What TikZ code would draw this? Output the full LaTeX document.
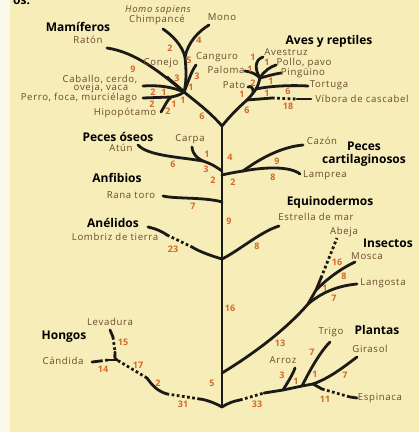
\documentclass[tikz,border=0pt]{standalone}
\usepackage{fontspec}
\setmainfont{Open Sans}
\newfontfamily\taxfont{Open Sans}[LetterSpace=7]
\usepackage{xcolor}
\usepackage{tikz}

\definecolor{paper}{HTML}{F6EDB9}
\definecolor{pageedge}{HTML}{FBF9EC}
\definecolor{ink}{HTML}{1C1A16}
\definecolor{bark}{HTML}{6B4A2B}
\definecolor{rust}{HTML}{D4692A}

\begin{document}
\begin{tikzpicture}[
  x=1pt, y=-1pt,
  branch/.style={draw=ink, line width=2.8pt, line cap=round},
  gapline/.style={draw=ink, line width=2.8pt, dash pattern=on 2.7pt off 2.5pt},
  taxon/.style={text=bark, inner sep=0pt, font=\taxfont\fontsize{9.6}{10}\selectfont},
  group/.style={text=black, inner sep=0pt, align=center, font=\bfseries\fontsize{12}{13}\selectfont},
  blen/.style={text=rust, inner sep=0pt, font=\bfseries\fontsize{9}{9}\selectfont},
]
  \useasboundingbox (0,0) rectangle (419,432);
  \fill[paper] (0,0) rectangle (419,432);
  \fill[pageedge] (0,0) rectangle (10,432);
  \node[group, anchor=base west] (cut) at (13,4) {os.};

  % branch points on the trunk
  \coordinate (top) at (222,126);
  \coordinate (root) at (222,407);
  \coordinate (fishL) at (222,171);
  \coordinate (fishR) at (222,175);
  \coordinate (frog) at (222,202);
  \coordinate (worm) at (222,259);
  \coordinate (bug) at (222,373);
  \draw[branch] (top) -- (root);

  % Mammals
  \coordinate (mam) at (184,92);
  \coordinate (prim) at (185,57);
  \coordinate (chimpE) at (163,29);
  \coordinate (monoE) at (209,25);
  \coordinate (kangE) at (196,65);
  \coordinate (rabbitE) at (167,77);
  \coordinate (ratE) at (107,48);
  \coordinate (horseE) at (143,86);
  \coordinate (dogE) at (143,98);
  \coordinate (laur) at (171,97);
  \coordinate (hippoE) at (161,112);
  \draw[branch] (top) .. controls (210,112) and (195,101) .. (mam);
  \draw[branch] (mam) .. controls (187,80) and (186,68) .. (prim);
  \draw[branch] (prim) .. controls (182,45) and (172,35) .. (chimpE);
  \draw[branch] (prim) .. controls (188,42) and (199,31) .. (monoE);
  \draw[branch] (mam) .. controls (189,80) and (191,72) .. (kangE);
  \draw[branch] (mam) .. controls (177,85) and (171,81) .. (rabbitE);
  \draw[branch] (ratE) .. controls (135,52) and (160,72) .. (mam);
  \draw[branch] (horseE) .. controls (160,85) and (172,87) .. (mam);
  \draw[branch] (dogE) -- (laur) .. controls (176,96) and (180,95) .. (mam);
  \draw[branch] (hippoE) .. controls (165,106) and (167,100) .. (laur);

  % Birds and reptiles
  \coordinate (rep) at (247,100);
  \coordinate (arch) at (256,89);
  \coordinate (aves) at (260,78);
  \coordinate (snakeA) at (272,98);
  \coordinate (snakeB) at (297,99);
  \coordinate (snakeE) at (311,99);
  \coordinate (turtleE) at (308,86);
  \coordinate (duckE) at (248,87);
  \coordinate (duckJ) at (253,93);
  \coordinate (ostrichE) at (263,57);
  \coordinate (chickE) at (276,65);
  \coordinate (penguinE) at (281,73);
  \coordinate (doveE) at (245,71);
  \draw[branch] (top) .. controls (230,116) and (238,108) .. (rep);
  \draw[branch] (rep) -- (snakeA);
  \draw[gapline] (snakeA) -- (snakeB);
  \draw[branch] (snakeB) -- (snakeE);
  \draw[branch] (rep) .. controls (251,96) and (254,92) .. (arch) .. controls (258,86) and (259,82) .. (aves);
  \draw[branch] (arch) .. controls (270,86) and (290,85) .. (turtleE);
  \draw[branch] (duckE) .. controls (251,85) and (254,89) .. (duckJ);
  \draw[branch] (aves) .. controls (255,70) and (254,60) .. (ostrichE);
  \draw[branch] (aves) .. controls (264,71) and (270,67) .. (chickE);
  \draw[branch] (aves) .. controls (268,76) and (274,74) .. (penguinE);
  \draw[branch] (doveE) .. controls (252,72) and (256,74) .. (aves);

  % Fishes
  \coordinate (tunaE) at (138,145);
  \coordinate (teleo) at (203,161);
  \coordinate (carpE) at (192,147);
  \coordinate (chond) at (243,171);
  \coordinate (sharkE) at (303,145);
  \coordinate (lampE) at (300,174);
  \draw[branch] (tunaE) .. controls (148,156) and (180,157) .. (teleo) .. controls (212,164) and (218,168) .. (fishL);
  \draw[branch] (carpE) .. controls (193,155) and (197,158) .. (teleo);
  \draw[branch] (fishR) .. controls (230,173) and (237,172) .. (chond);
  \draw[branch] (chond) .. controls (258,160) and (280,147) .. (sharkE);
  \draw[branch] (chond) .. controls (265,167) and (290,166) .. (lampE);

  % Amphibians, annelids, echinoderms
  \coordinate (frogE) at (163,196);
  \coordinate (wormE) at (148,227);
  \coordinate (wormA) at (167,235);
  \coordinate (wormB) at (192,247);
  \coordinate (starE) at (279,226);
  \draw[branch] (frogE) .. controls (175,199) and (205,197) .. (frog);
  \draw[branch] (wormE) .. controls (157,229) and (163,232) .. (wormA);
  \draw[gapline] (wormA) -- (wormB);
  \draw[branch] (wormB) .. controls (200,252) and (212,256) .. (worm);
  \draw[branch] (worm) .. controls (240,250) and (260,232) .. (starE);

  % Insects
  \coordinate (arth) at (308,304);
  \coordinate (hexa) at (316,290);
  \coordinate (beeA) at (321,278);
  \coordinate (beeE) at (337,238);
  \coordinate (flyE) at (355,262);
  \coordinate (lobsterE) at (357,284);
  \draw[branch] (bug) .. controls (260,350) and (290,325) .. (arth);
  \draw[branch] (arth) -- (hexa) -- (beeA);
  \draw[gapline] (beeA) -- (beeE);
  \draw[branch] (hexa) .. controls (328,278) and (342,268) .. (flyE);
  \draw[branch] (arth) .. controls (320,294) and (335,286) .. (lobsterE);

  % Plants
  \coordinate (plantA) at (240,400);
  \coordinate (plantB) at (264,393);
  \coordinate (rice) at (283,390);
  \coordinate (wheat) at (302,386);
  \coordinate (dicot) at (313,384);
  \coordinate (riceE) at (295,368);
  \coordinate (wheatE) at (330,342);
  \coordinate (sunE) at (357,357);
  \coordinate (spinA) at (322,389);
  \coordinate (spinB) at (350,397);
  \coordinate (spinE) at (357,398);
  \draw[branch] (root) .. controls (228,403) and (234,401) .. (plantA);
  \draw[gapline] (plantA) -- (plantB);
  \draw[branch] (plantB) -- (rice) -- (wheat) -- (dicot);
  \draw[branch] (rice) .. controls (288,382) and (293,374) .. (riceE);
  \draw[branch] (wheat) .. controls (310,370) and (320,352) .. (wheatE);
  \draw[branch] (dicot) .. controls (330,378) and (345,366) .. (sunE);
  \draw[branch] (dicot) -- (spinA);
  \draw[gapline] (spinA) -- (spinB);
  \draw[branch] (spinB) -- (spinE);

  % Fungi
  \coordinate (fungA) at (200,399);
  \coordinate (fungB) at (167,394);
  \coordinate (fungC) at (147,378);
  \coordinate (fungi) at (117,360);
  \coordinate (yeastE) at (110,330);
  \coordinate (yeastA) at (113,337);
  \coordinate (yeastB) at (115,352);
  \coordinate (candE) at (92,362);
  \coordinate (candA) at (100,361);
  \coordinate (candB) at (108,360);
  \draw[branch] (root) .. controls (215,403) and (207,400) .. (fungA);
  \draw[gapline] (fungA) -- (fungB);
  \draw[branch] (fungB) .. controls (157,391) and (152,385) .. (fungC);
  \draw[gapline] (fungC) -- (fungi);
  \draw[branch] (yeastE) -- (yeastA);
  \draw[gapline] (yeastA) -- (yeastB);
  \draw[branch] (yeastB) .. controls (115,356) and (114,359) .. (fungi);
  \draw[branch] (candE) -- (candA);
  \draw[gapline] (candA) -- (candB);
  \draw[branch] (candB) -- (fungi);

  % Group titles
  \node[group] (gMam) at (78,27) {Mamíferos};
  \node[group] (gRep) at (329,41) {Aves y reptiles};
  \node[group] (gOse) at (118,137) {Peces óseos};
  \node[group] (gCar) at (364,154) {Peces\\cartilaginosos};
  \node[group] (gAnf) at (117,178) {Anfibios};
  \node[group] (gEqu) at (330,202) {Equinodermos};
  \node[group] (gAne) at (113,223) {Anélidos};
  \node[group] (gIns) at (388,243) {Insectos};
  \node[group] (gPla) at (377,330) {Plantas};
  \node[group] (gHon) at (64,337) {Hongos};

  % Species
  \node[taxon, font=\taxfont\itshape\fontsize{9.4}{10}\selectfont] (homo) at (158,10.5) {Homo sapiens};
  \node[taxon] (chimp) at (157,20) {Chimpancé};
  \node[taxon] (mono) at (222,17) {Mono};
  \node[taxon] (raton) at (88,40) {Ratón};
  \node[taxon] (conejo) at (161,63) {Conejo};
  \node[taxon] (canguro) at (217,57) {Canguro};
  \node[taxon] (caballo) at (100,79) {Caballo, cerdo,};
  \node[taxon] (oveja) at (101,88.5) {oveja, vaca};
  \node[taxon] (perro) at (79,98) {Perro, foca, murciélago};
  \node[taxon] (hipo) at (125,113) {Hipopótamo};
  \node[taxon] (avestruz) at (286,52) {Avestruz};
  \node[taxon] (pollo) at (304,63) {Pollo, pavo};
  \node[taxon] (pinguino) at (303,73) {Pingüino};
  \node[taxon] (paloma) at (226,70) {Paloma};
  \node[taxon] (pato) at (234,85) {Pato};
  \node[taxon] (tortuga) at (329,85) {Tortuga};
  \node[taxon] (vibora) at (362,99) {Víbora de cascabel};
  \node[taxon] (carpa) at (190,139) {Carpa};
  \node[taxon] (atun) at (121,148) {Atún};
  \node[taxon] (cazon) at (322,141) {Cazón};
  \node[taxon] (lamprea) at (325,175) {Lamprea};
  \node[taxon] (rana) at (131,195) {Rana toro};
  \node[taxon] (estrella) at (316,217) {Estrella de mar};
  \node[taxon] (lombriz) at (115,237) {Lombriz de tierra};
  \node[taxon] (abeja) at (344,232) {Abeja};
  \node[taxon] (mosca) at (367,256) {Mosca};
  \node[taxon] (langosta) at (383,283) {Langosta};
  \node[taxon] (trigo) at (331,332) {Trigo};
  \node[taxon] (girasol) at (370,349) {Girasol};
  \node[taxon] (arroz) at (283,360) {Arroz};
  \node[taxon] (espinaca) at (380,398) {Espinaca};
  \node[taxon] (levadura) at (110,322) {Levadura};
  \node[taxon] (candida) at (63,361) {Cándida};

  % Branch lengths
  \node[blen] (bMono) at (199,40) {4};
  \node[blen] (bChimp) at (170,48) {2};
  \node[blen] (bPrim) at (189,60) {5};
  \node[blen] (bKang) at (197,76) {3};
  \node[blen] (bRabbit) at (177,78) {3};
  \node[blen] (bRat) at (133,69) {9};
  \node[blen] (bHorse) at (153,92) {2};
  \node[blen] (bHorseIn) at (164,92) {1};
  \node[blen] (bMam) at (191,87) {1};
  \node[blen] (bDog) at (152,104) {2};
  \node[blen] (bDogIn) at (174,104) {1};
  \node[blen] (bLaur) at (183,100) {1};
  \node[blen] (bHippo) at (168,111) {2};
  \node[blen] (bMamStem) at (202,116) {6};
  \node[blen] (bOstrich) at (253,57) {1};
  \node[blen] (bChick) at (267,62) {1};
  \node[blen] (bDove) at (250,69) {1};
  \node[blen] (bPenguin) at (271,81) {1};
  \node[blen] (bAves) at (253,83) {2};
  \node[blen] (bDuck) at (242,94) {1};
  \node[blen] (bArch) at (267,93) {1};
  \node[blen] (bTurtle) at (288,91) {6};
  \node[blen] (bSnake) at (288,106) {18};
  \node[blen] (bRep) at (247,110) {6};
  \node[blen] (bCarp) at (207,154) {1};
  \node[blen] (bTeleo) at (206,169) {3};
  \node[blen] (bTuna) at (173,164) {6};
  \node[blen] (bFishL) at (213,180) {2};
  \node[blen] (bTrunkA) at (230,157) {4};
  \node[blen] (bFishR) at (233,182) {2};
  \node[blen] (bShark) at (277,161) {9};
  \node[blen] (bLamp) at (273,177) {8};
  \node[blen] (bFrog) at (193,206) {7};
  \node[blen] (bTrunkB) at (229,221) {9};
  \node[blen] (bWorm) at (173,249) {23};
  \node[blen] (bStar) at (257,246) {8};
  \node[blen] (bTrunkC) at (230,308) {16};
  \node[blen] (bBee) at (337,262) {16};
  \node[blen] (bFly) at (344,276) {8};
  \node[blen] (bHexa) at (325,288) {1};
  \node[blen] (bLobster) at (334,298) {7};
  \node[blen] (bArth) at (280,343) {13};
  \node[blen] (bTrunkD) at (212,383) {5};
  \node[blen] (bPlant) at (257,404) {33};
  \node[blen] (bRice) at (282,375) {3};
  \node[blen] (bRiceIn) at (296,381) {1};
  \node[blen] (bWheat) at (312,352) {7};
  \node[blen] (bDicot) at (315,374) {1};
  \node[blen] (bSun) at (345,375) {7};
  \node[blen] (bSpin) at (325,399) {11};
  \node[blen] (bFungA) at (183,404) {31};
  \node[blen] (bFungB) at (158,383) {2};
  \node[blen] (bFungC) at (138,365) {17};
  \node[blen] (bYeast) at (123,342) {15};
  \node[blen] (bCand) at (103,369) {14};
\end{tikzpicture}
\end{document}
